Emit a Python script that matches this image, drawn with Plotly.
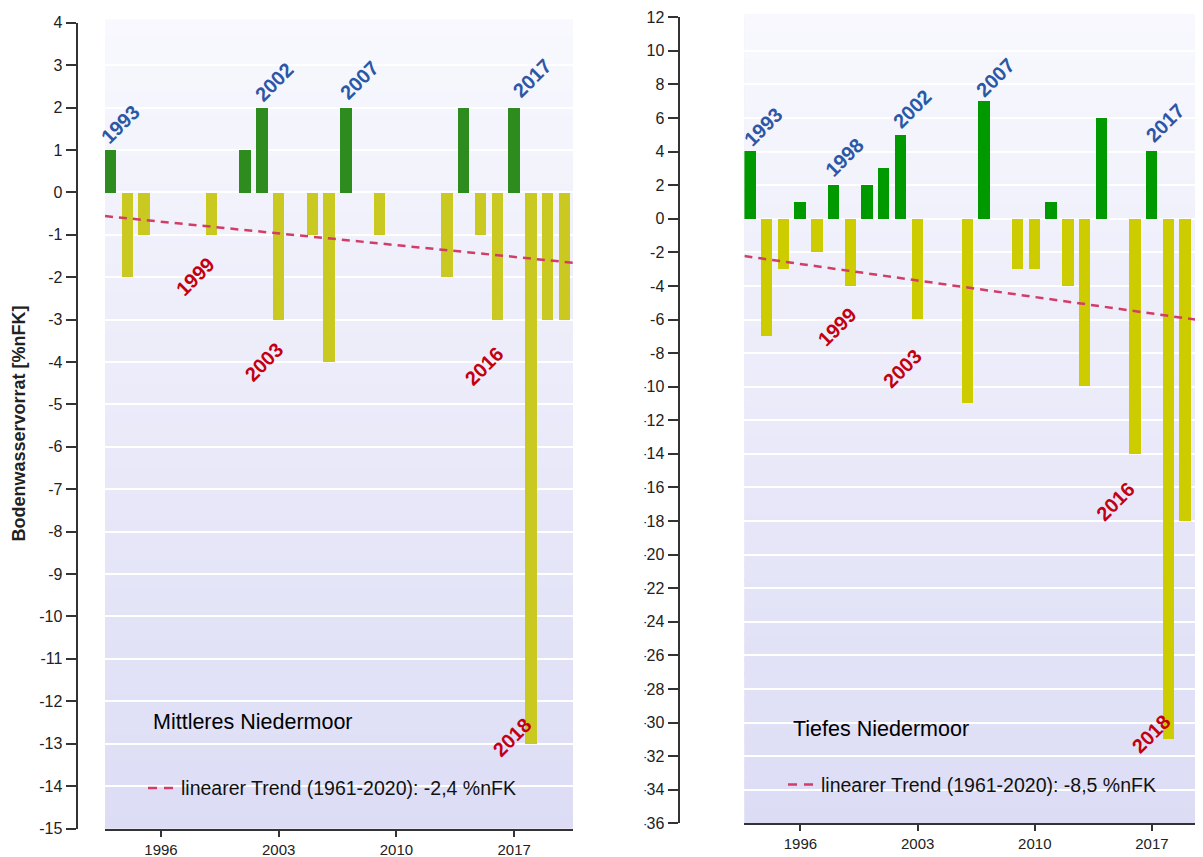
import plotly.graph_objects as go

VIEW_W, VIEW_H = 1203, 857
OFF = 8  # default page margin of the browser
W, H = VIEW_W - OFF, VIEW_H - OFF

# ---------------- data ----------------
years = list(range(1993, 2021))

# Mittleres Niedermoor (left panel), Bodenwasservorrat anomaly [%nFK]
mittleres_values = [1, -2, -1, 0, 0, 0, -1, 0, 1, 2, -3, 0, -1, -4, 2, 0,
                    -1, 0, 0, 0, -2, 2, -1, -3, 2, -13, -3, -3]
# Tiefes Niedermoor (right panel)
tiefes_values = [4, -7, -3, 1, -2, 2, -4, 2, 3, 5, -6, 0, 0, -11, 7, 0,
                 -3, -3, 1, -4, -10, 6, 0, -14, 4, -31, -18, -16]

# linear trend (1961-2020), visible part
mittleres_trend_x = [1992.67, 2020.5]
mittleres_trend_y = [-0.56, -1.66]
tiefes_trend_x = [1992.65, 2020.55]
tiefes_trend_y = [-2.22, -6.14]

x_tickvals = [1996, 2003, 2010, 2017]
left_ytickvals = list(range(-15, 5, 1))
right_ytickvals = list(range(-36, 13, 2))

# highlighted years: (text, kind)
left_label_years = ["1993", "2002", "2007", "2017", "1999", "2003", "2016", "2018"]
left_label_kind = ["wet", "wet", "wet", "wet", "dry", "dry", "dry", "dry"]
right_label_years = ["1993", "1998", "2002", "2007", "2017", "1999", "2003", "2016", "2018"]
right_label_kind = ["wet", "wet", "wet", "wet", "wet", "dry", "dry", "dry", "dry"]

# ---------------- layout helpers / styles ----------------
# label placement (data coordinates of label centre)
left_label_pos = [(1993.6, 1.61), (2002.73, 2.6), (2007.8, 2.65), (2018.08, 2.69),
                  (1998.08, -1.98), (2002.13, -4.01), (2015.23, -4.1), (2016.9, -12.85)]
right_label_pos = [(1993.77, 5.47), (1998.65, 3.68), (2002.67, 6.54), (2007.68, 8.44),
                   (2017.78, 5.7), (1998.19, -6.45), (2002.12, -8.89), (2014.85, -16.81),
                   (2016.95, -30.69)]

FONT = "Arial, Liberation Sans, sans-serif"
BLUE = "#2B58A6"
RED = "#C40010"
TREND = "#D23C68"
AXIS = "#333333"


def px_x(p):
    return (p - OFF) / W


def px_y(p):
    return 1 - (p - OFF) / H


fig = go.Figure()

left_colors = ["#2E8C1E" if v > 0 else "#C9C922" for v in mittleres_values]
right_colors = ["#009A00" if v > 0 else "#CCCC00" for v in tiefes_values]

fig.add_trace(go.Bar(x=years, y=mittleres_values, width=0.68,
                     marker=dict(color=left_colors, line=dict(width=0)),
                     xaxis="x", yaxis="y", showlegend=False))
fig.add_trace(go.Scatter(x=mittleres_trend_x, y=mittleres_trend_y, mode="lines",
                         line=dict(color=TREND, width=2.5, dash="8px,6px"),
                         xaxis="x", yaxis="y", showlegend=False))

fig.add_trace(go.Bar(x=years, y=tiefes_values, width=0.68,
                     marker=dict(color=right_colors, line=dict(width=0)),
                     xaxis="x2", yaxis="y2", showlegend=False))
fig.add_trace(go.Scatter(x=tiefes_trend_x, y=tiefes_trend_y, mode="lines",
                         line=dict(color=TREND, width=2.5, dash="8px,6px"),
                         xaxis="x2", yaxis="y2", showlegend=False))

common_x = dict(tickvals=x_tickvals, ticktext=[str(v) for v in x_tickvals],
                ticks="outside", ticklen=6, tickwidth=1.5, tickcolor=AXIS,
                showline=True, linecolor=AXIS, linewidth=2, showgrid=False,
                zeroline=False, ticklabelstandoff=0, automargin=False,
                tickfont=dict(family=FONT, size=15, color="#222"))
common_y = dict(ticks="outside", ticklen=10, tickwidth=1.5, tickcolor=AXIS,
                showline=True, linecolor=AXIS, linewidth=2, showgrid=True,
                gridcolor="white", gridwidth=2, zeroline=False, automargin=False,
                tickfont=dict(family=FONT, size=16, color="#222"), anchor="free")

fig.update_layout(
    width=W, height=H, autosize=False,
    margin=dict(l=0, r=0, t=0, b=0, pad=0),
    paper_bgcolor="white", plot_bgcolor="#E4E4F7",
    bargap=0, showlegend=False,
    font=dict(family=FONT),
    xaxis=dict(domain=[px_x(105), px_x(573)], range=[1992.67, 2020.5], anchor="y", **common_x),
    yaxis=dict(domain=[px_y(828.5), px_y(22.7)], range=[-15, 4], position=px_x(76.6),
               tickvals=left_ytickvals, ticktext=[str(v) for v in left_ytickvals], **common_y),
    xaxis2=dict(domain=[px_x(744.4), 1.0], range=[1992.65, 2020.05], anchor="y2", **common_x),
    yaxis2=dict(domain=[px_y(823.3), px_y(17.3)], range=[-36, 12], position=px_x(678.5),
                tickvals=right_ytickvals, ticktext=[str(v) for v in right_ytickvals], **common_y),
)

# background gradient (light at top, lavender at bottom)
shapes = []
N = 60
top_c = (248, 248, 254)
bot_c = (220, 220, 245)
for xr, yr in (("x domain", "y domain"), ("x2 domain", "y2 domain")):
    for i in range(N):
        f = (i + 0.5) / N
        c = tuple(round(bot_c[k] + (top_c[k] - bot_c[k]) * f) for k in range(3))
        shapes.append(dict(type="rect", xref=xr, yref=yr, x0=0, x1=1,
                           y0=i / N, y1=(i + 1) / N + 0.004,
                           fillcolor="rgb(%d,%d,%d)" % c, line=dict(width=0), layer="below"))

# legend dash samples
shapes.append(dict(type="line", xref="paper", yref="paper", x0=px_x(148), x1=px_x(175),
                   y0=px_y(788), y1=px_y(788), line=dict(color=TREND, width=2.5, dash="9px,7px")))
shapes.append(dict(type="line", xref="paper", yref="paper", x0=px_x(788), x1=px_x(815),
                   y0=px_y(784.5), y1=px_y(784.5), line=dict(color=TREND, width=2.5, dash="9px,7px")))
# the right-hand panel is cut at its left edge in the original picture
shapes.append(dict(type="rect", xref="paper", yref="paper", x0=px_x(596), x1=px_x(644.5),
                   y0=0, y1=1, fillcolor="white", line=dict(width=0), layer="above"))
fig.update_layout(shapes=shapes)

annotations = []
for txt, kind, (ax, ay) in zip(left_label_years, left_label_kind, left_label_pos):
    annotations.append(dict(x=ax, y=ay, xref="x", yref="y", text="<b>%s</b>" % txt,
                            showarrow=False, textangle=-45,
                            font=dict(family=FONT, size=20, color=BLUE if kind == "wet" else RED)))
for txt, kind, (ax, ay) in zip(right_label_years, right_label_kind, right_label_pos):
    annotations.append(dict(x=ax, y=ay, xref="x2", yref="y2", text="<b>%s</b>" % txt,
                            showarrow=False, textangle=-45,
                            font=dict(family=FONT, size=20, color=BLUE if kind == "wet" else RED)))

annotations += [
    dict(x=px_x(150.5), y=px_y(722), xref="paper", yref="paper", xanchor="left", yanchor="middle",
         text="Mittleres Niedermoor", showarrow=False, font=dict(family=FONT, size=21.5, color="black")),
    dict(x=px_x(791), y=px_y(728.5), xref="paper", yref="paper", xanchor="left", yanchor="middle",
         text="Tiefes Niedermoor", showarrow=False, font=dict(family=FONT, size=21.5, color="black")),
    dict(x=px_x(179), y=px_y(787.5), xref="paper", yref="paper", xanchor="left", yanchor="middle",
         text="linearer Trend (1961-2020): -2,4 %nFK", showarrow=False,
         font=dict(family=FONT, size=19.5, color="#111")),
    dict(x=px_x(819), y=px_y(784.5), xref="paper", yref="paper", xanchor="left", yanchor="middle",
         text="linearer Trend (1961-2020): -8,5 %nFK", showarrow=False,
         font=dict(family=FONT, size=19.5, color="#111")),
    dict(x=px_x(18.5), y=px_y(424), xref="paper", yref="paper", xanchor="center", yanchor="middle",
         text="<b>Bodenwasservorrat [%nFK]</b>", showarrow=False, textangle=-90,
         font=dict(family=FONT, size=18, color="#222")),
]
fig.update_layout(annotations=annotations)

fig.write_html("out.html")
